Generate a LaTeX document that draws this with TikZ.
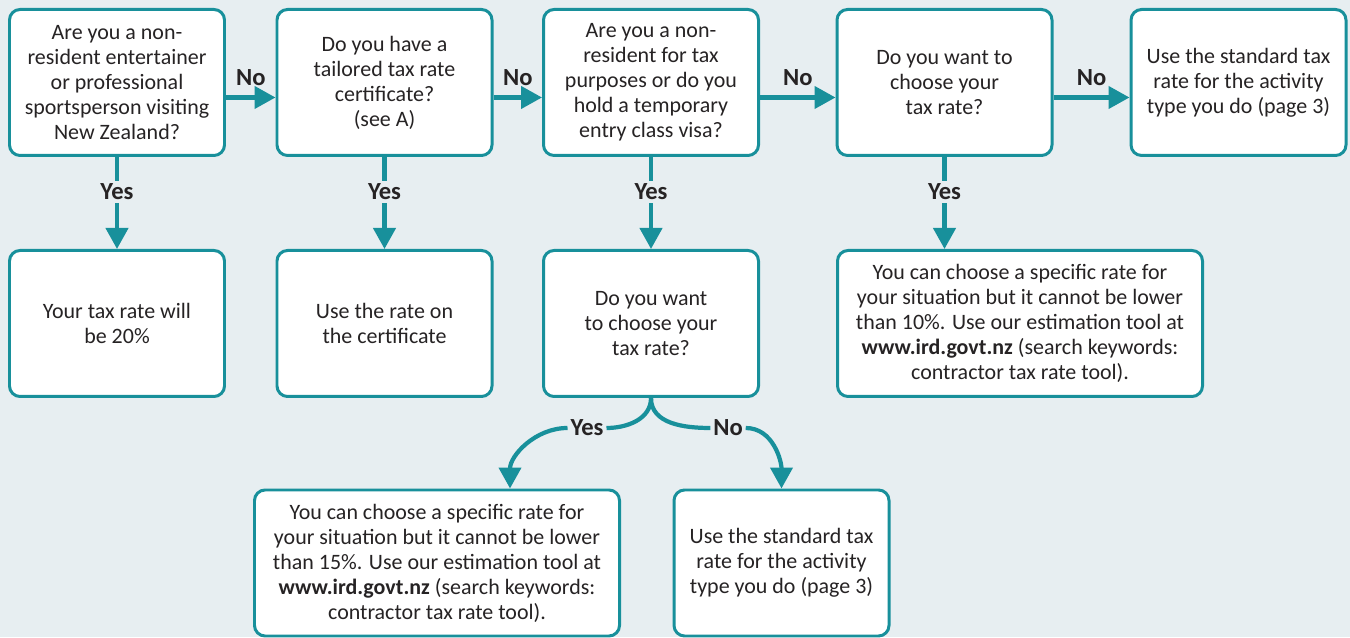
\documentclass[tikz,border=0pt]{standalone}
\usepackage{fontspec}
\setmainfont{Carlito}
\usetikzlibrary{arrows.meta}
\definecolor{teal}{HTML}{18909B}
\definecolor{bg}{HTML}{E7EEF1}
\definecolor{ink}{HTML}{262324}
\begin{document}
\begin{tikzpicture}[
    >={Triangle[length=0.42cm,width=0.44cm]},
    box/.style={
        draw=teal,
        line width=1.7pt,
        fill=white,
        rounded corners=6pt,
        minimum width=4.3cm,
        minimum height=2.92cm,
        align=center,
        text=ink,
        font=\fontsize{12.5}{14.2}\selectfont
    },
    widebox/.style={box, minimum width=7.3cm},
    arr/.style={->, line width=2.4pt, draw=teal},
    line/.style={line width=2.4pt, draw=teal},
    lbl/.style={font=\fontsize{14}{16}\selectfont\bfseries, text=ink, inner sep=1.5pt},
    gap/.style={lbl, fill=bg}
]
    \fill[bg] (0,0) rectangle (27,12.74);

    % top row
    \node[box] (resident) at (2.34,11.09)
        {Are you a non-\\resident entertainer\\or professional\\sportsperson visiting\\New Zealand?};
    \node[box] (certificate) at (7.69,11.09)
        {Do you have a\\tailored tax rate\\certificate?\\(see A)};
    \node[box] (visa) at (13.02,11.09)
        {Are you a non-\\resident for tax\\purposes or do you\\hold a temporary\\entry class visa?};
    \node[box] (choose) at (18.89,11.09)
        {Do you want to\\choose your\\tax rate?};
    \node[box] (standard) at (24.77,11.09)
        {Use the standard tax\\rate for the activity\\type you do (page 3)};

    % middle row
    \node[box] (twenty) at (2.34,6.27)
        {Your tax rate will\\be 20\%};
    \node[box] (userate) at (7.69,6.27)
        {Use the rate on\\the certificate};
    \node[box] (choosevisa) at (13.02,6.27)
        {Do you want\\to choose your\\tax rate?};
    \node[widebox] (ten) at (20.4,6.27)
        {You can choose a specific rate for\\your situation but it cannot be lower\\than 10\%. Use our estimation tool at\\\textbf{www.ird.govt.nz} (search keywords:\\contractor tax rate tool).};

    % bottom row
    \node[widebox] (fifteen) at (8.74,1.48)
        {You can choose a specific rate for\\your situation but it cannot be lower\\than 15\%. Use our estimation tool at\\\textbf{www.ird.govt.nz} (search keywords:\\contractor tax rate tool).};
    \node[box] (standardvisa) at (15.63,1.48)
        {Use the standard tax\\rate for the activity\\type you do (page 3)};

    % No arrows
    \draw[arr] ([yshift=-0.3cm]resident.east) -- node[lbl, above=4pt] {No} ([yshift=-0.3cm]certificate.west);
    \draw[arr] ([yshift=-0.3cm]certificate.east) -- node[lbl, above=4pt] {No} ([yshift=-0.3cm]visa.west);
    \draw[arr] ([yshift=-0.3cm]visa.east) -- node[lbl, above=4pt] {No} ([yshift=-0.3cm]choose.west);
    \draw[arr] ([yshift=-0.3cm]choose.east) -- node[lbl, above=4pt] {No} ([yshift=-0.3cm]standard.west);

    % Yes arrows
    \draw[arr] (resident) -- node[gap, pos=0.38] {Yes} (twenty);
    \draw[arr] (certificate) -- node[gap, pos=0.38] {Yes} (userate);
    \draw[arr] (visa) -- node[gap, pos=0.38] {Yes} (choosevisa);
    \draw[arr] (choose.south) -- node[gap, pos=0.38] {Yes} (choose.south |- ten.north);

    % split below
    \node[lbl] (yes) at (11.74,4.18) {Yes};
    \node[lbl] (no) at (14.56,4.18) {No};
    \draw[line] (choosevisa.south) to[out=-90, in=0] (yes.east);
    \draw[arr] (yes.west) to[out=180, in=90] ([xshift=1.46cm]fifteen.north);
    \draw[line] (choosevisa.south) to[out=-90, in=180] (no.west);
    \draw[arr] (no.east) to[out=0, in=90] (standardvisa.north);
\end{tikzpicture}
\end{document}
